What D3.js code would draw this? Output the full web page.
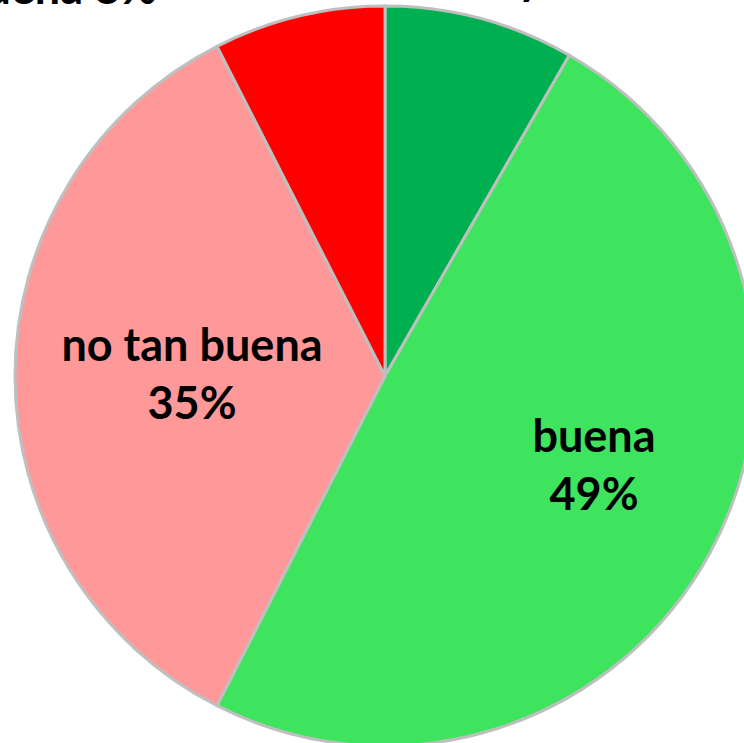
<!DOCTYPE html>
<html><head><meta charset="utf-8">
<script src="https://cdn.jsdelivr.net/npm/d3@7"></script>
<style>html,body{margin:0;padding:0;background:#fff;overflow:hidden}</style>
</head><body>
<svg id="c" width="744" height="743"></svg>
<script>
const categories = ["muy buena", "buena", "no tan buena", "nada buena"];
const values = [8.3, 49.2, 35.0, 7.5];
const colors = ["#00B050", "#3FE45E", "#FF9999", "#FF0000"];

const svg = d3.select("#c");
const cx = 385, cy = 376, r = 370;
const g = svg.append("g").attr("transform", `translate(${cx},${cy})`);
const pie = d3.pie().sort(null).value(d => d.v);
const data = pie(categories.map((c, i) => ({c, v: values[i], col: colors[i]})));
const arc = d3.arc().innerRadius(0).outerRadius(r);
g.selectAll("path").data(data).join("path")
  .attr("d", arc).attr("fill", d => d.data.col)
  .attr("stroke", "#BFBFBF").attr("stroke-width", 3).attr("stroke-linejoin", "round");

const font = "Lato, 'Open Sans', sans-serif";
function lab(x, y, lines, anchor) {
  const t = svg.append("text").attr("x", x).attr("y", y)
    .attr("text-anchor", anchor || "middle")
    .attr("font-family", font).attr("font-weight", "bold").attr("font-size", 45)
    .attr("fill", "#000");
  lines.forEach((l, i) => t.append("tspan").attr("x", x).attr("dy", i ? 58 : 0).text(l));
}
const pct = v => Math.round(v) + "%";
lab(192, 361, [categories[2], pct(values[2])]);
lab(594, 452, [categories[1], pct(values[1])]);
lab(157, 4, [categories[3] + " " + pct(values[3])], "end");
lab(455, -6, [categories[0] + " " + pct(values[0])], "start");
</script>
</body></html>
